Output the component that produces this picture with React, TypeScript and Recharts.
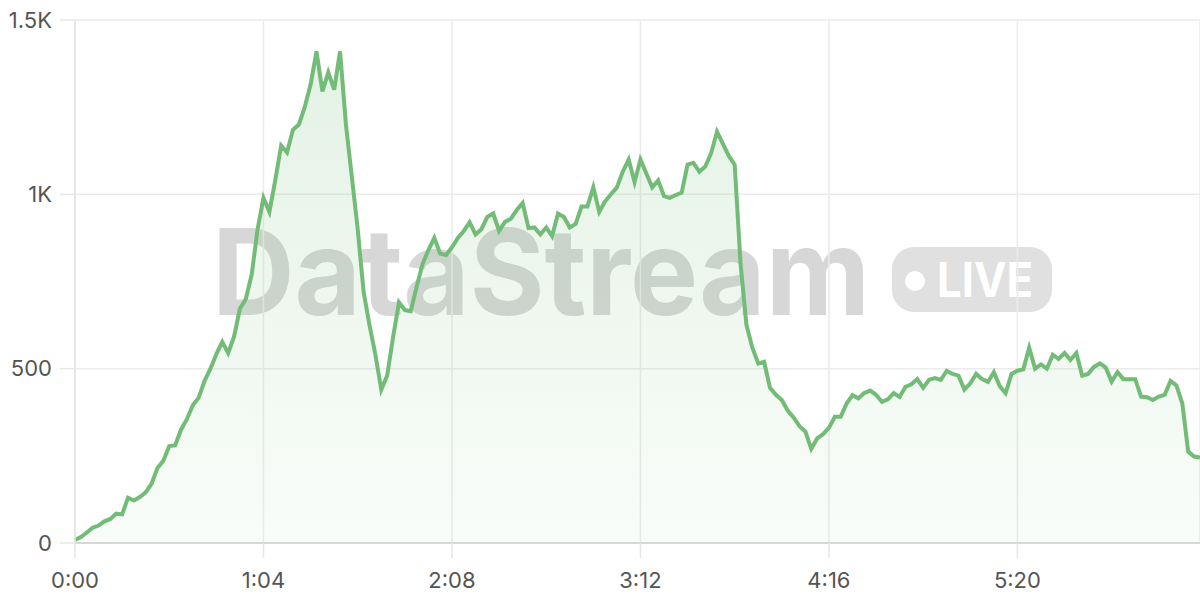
import { AreaChart, Area, XAxis, YAxis, CartesianGrid } from 'recharts';

// one sample every 2 time units (0:00, 0:02, ...)
const STEP = 2;

const viewers = [
  9, 17, 30, 44, 50, 62, 69, 84, 82, 130,
  122, 132, 145, 170, 215, 236, 278, 280, 325, 355,
  395, 417, 465, 500, 542, 577, 545, 592, 672, 700,
  770, 900, 990, 950, 1040, 1140, 1120, 1185, 1200, 1250,
  1315, 1410, 1295, 1350, 1300, 1410, 1200, 1050, 900, 720,
  625, 540, 440, 480, 590, 690, 668, 665, 735, 800,
  840, 875, 830, 826, 848, 875, 895, 920, 885, 900,
  935, 945, 895, 921, 930, 955, 975, 903, 905, 885,
  905, 880, 945, 935, 905, 915, 965, 965, 1020, 950,
  980, 1000, 1020, 1065, 1100, 1035, 1100, 1060, 1020, 1040,
  995, 990, 998, 1005, 1085, 1090, 1065, 1080, 1118, 1180,
  1145, 1110, 1085, 800, 625, 560, 515, 520, 445, 425,
  410, 380, 360, 335, 320, 270, 300, 312, 330, 362,
  362, 400, 424, 415, 430, 437, 425, 405, 412, 430,
  419, 448, 455, 470, 445, 468, 473, 468, 494, 485,
  480, 440, 458, 485, 470, 462, 490, 450, 430, 485,
  494, 498, 560, 500, 512, 500, 540, 528, 545, 525,
  545, 480, 485, 505, 515, 503, 463, 490, 470, 470,
  470, 420, 418, 410, 420, 425, 465, 452, 400, 262,
  248, 245,
];

const timeTicks = [0, 64, 128, 192, 256, 320];
const valueTicks = [0, 500, 1000, 1500];
const valueLabels = ['0', '500', '1K', '1.5K'];

const data = viewers.map((v, i) => ({ t: i * STEP, v }));

const fmtTime = (s: number) => `${Math.floor(s / 60)}:${String(s % 60).padStart(2, '0')}`;
const fmtValue = (v: number) => valueLabels[valueTicks.indexOf(v)] ?? String(v);

const GREEN = '#72bc77';
const tickStyle = { fontSize: 22, fill: '#555', fontFamily: 'Inter, "Noto Sans", sans-serif' };

function Watermark() {
  return (
    <svg width={1200} height={600} style={{ position: 'absolute', left: 0, top: 0 }}>
      <text
        x={212}
        y={315}
        fontSize={120}
        fontWeight={700}
        fontFamily='Inter, "Noto Sans", sans-serif'
        fill="#d7d7d7"
        textLength={658}
        lengthAdjust="spacingAndGlyphs"
      >
        DataStream
      </text>
      <rect x={892} y={247} width={160} height={65} rx={22} fill="#e0e0e0" />
      <circle cx={915} cy={281} r={10} fill="#fff" />
      <text
        x={937}
        y={297}
        fontSize={48}
        fontWeight={700}
        fontFamily='Inter, "Noto Sans", sans-serif'
        fill="#fff"
        textLength={96}
        lengthAdjust="spacingAndGlyphs"
      >
        LIVE
      </text>
    </svg>
  );
}

export default function App() {
  return (
    <div style={{ position: 'relative', width: 1200, height: 600, background: '#fff' }}>
      <style>{'body{margin:0}'}</style>
      <Watermark />
      <div style={{ position: 'absolute', left: 0, top: 0 }}>
        <AreaChart width={1200} height={600} data={data} margin={{ top: 20, right: 0, left: 0, bottom: 0 }}>
          <defs>
            <linearGradient id="fillGreen" x1="0" y1="0" x2="0" y2="1">
              <stop offset="0%" stopColor={GREEN} stopOpacity={0.32} />
              <stop offset="100%" stopColor={GREEN} stopOpacity={0.07} />
            </linearGradient>
          </defs>
          <CartesianGrid stroke="#ebebeb" strokeWidth={1.5} />
          <XAxis
            dataKey="t"
            type="number"
            domain={[0, 382]}
            ticks={timeTicks}
            tickFormatter={fmtTime}
            tick={tickStyle}
            tickSize={15}
            tickMargin={14}
            height={57}
            axisLine={{ stroke: '#cfcfcf', strokeWidth: 1.5 }}
            tickLine={{ stroke: '#e6e6e6', strokeWidth: 1.5 }}
          />
          <YAxis
            type="number"
            domain={[0, 1500]}
            ticks={valueTicks}
            tickFormatter={fmtValue}
            tick={tickStyle}
            tickSize={15}
            tickMargin={8}
            width={75}
            axisLine={{ stroke: '#e3e3e3', strokeWidth: 1.5 }}
            tickLine={{ stroke: '#e6e6e6', strokeWidth: 1.5 }}
          />
          <Area
            type="linear"
            dataKey="v"
            stroke={GREEN}
            strokeWidth={4}
            fill="url(#fillGreen)"
            dot={false}
            activeDot={false}
            isAnimationActive={false}
          />
        </AreaChart>
      </div>
    </div>
  );
}
